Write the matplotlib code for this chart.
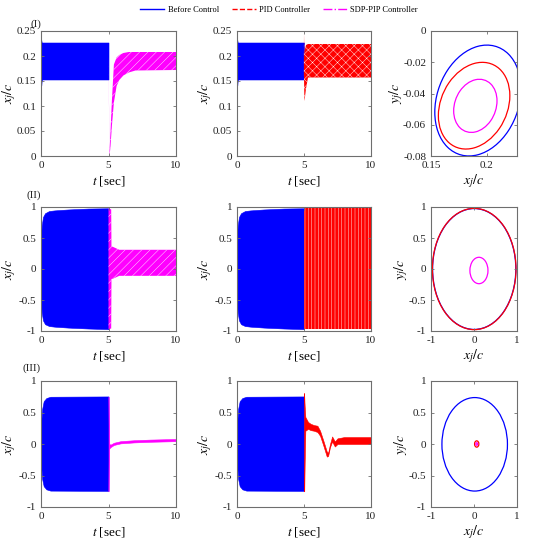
import numpy as np
import matplotlib
matplotlib.use("Agg")
import matplotlib.pyplot as plt
from matplotlib.patches import Circle
from matplotlib.transforms import Affine2D
from matplotlib.lines import Line2D

plt.rcParams['font.family'] = ['Liberation Serif', 'DejaVu Serif']
plt.rcParams['mathtext.fontset'] = 'stix'
plt.rcParams['axes.unicode_minus'] = False
plt.rcParams['hatch.linewidth'] = 0.3

# ---------------- data ----------------
# Case I: envelopes of the oscillating response x_j/c
t_before_I = [0.0, 0.02, 0.05, 0.1, 5.0]
up_before_I = [0.19, 0.232, 0.227, 0.227, 0.227]
lo_before_I = [0.19, 0.141, 0.150, 0.153, 0.153]

t_pid_I = [4.99, 5.0, 5.03, 5.06, 5.15, 5.3, 10.0]
up_pid_I = [0.2, 0.245, 0.2, 0.212, 0.222, 0.224, 0.224]
lo_pid_I = [0.16, 0.16, 0.11, 0.115, 0.135, 0.157, 0.157]

t_sdp_I = [5.0, 5.04, 5.08, 5.15, 5.25, 5.4, 5.6, 5.8, 6.1, 6.5, 7.0, 10.0]
up_sdp_I = [0.20, 0.10, 0.012, 0.05, 0.11, 0.183, 0.197, 0.202, 0.206, 0.208, 0.208, 0.208]
lo_sdp_I = [0.19, 0.09, 0.0, 0.02, 0.06, 0.107, 0.14, 0.152, 0.161, 0.167, 0.171, 0.172]

# Case II
t_before_II = [0.0, 0.01, 0.05, 0.15, 0.3, 0.6, 1.0, 2.0, 3.5, 5.0]
up_before_II = [0.0, 0.5, 0.7, 0.84, 0.9, 0.935, 0.945, 0.96, 0.975, 0.98]
lo_before_II = [0.0, -0.5, -0.7, -0.83, -0.89, -0.92, -0.93, -0.945, -0.96, -0.97]

t_pid_II = [5.0, 10.0]
up_pid_II = [0.985, 0.985]
lo_pid_II = [-0.975, -0.975]

t_sdp_II = [5.0, 5.2, 5.22, 5.3, 5.5, 5.8, 10.0]
up_sdp_II = [0.98, 0.96, 0.36, 0.36, 0.34, 0.31, 0.31]
lo_sdp_II = [-0.97, -0.96, -0.16, -0.16, -0.14, -0.11, -0.11]

# Case III
t_before_III = [0.0, 0.02, 0.08, 0.2, 0.4, 0.7, 5.0]
up_before_III = [0.0, 0.35, 0.55, 0.68, 0.73, 0.75, 0.755]
lo_before_III = [0.0, -0.35, -0.55, -0.67, -0.72, -0.74, -0.745]

t_pid_III = [5.0, 5.02, 5.05, 5.1, 5.3, 5.5, 5.75, 6.0, 6.2, 6.45, 6.7, 6.8, 6.94,
             7.1, 7.3, 7.5, 7.75, 8.0, 10.0]
up_pid_III = [0.81, 0.75, 0.6, 0.43, 0.35, 0.32, 0.30, 0.29, 0.21, 0.05, -0.12, -0.14,
              0.0, 0.12, 0.04, 0.09, 0.10, 0.11, 0.11]
lo_pid_III = [-0.75, -0.75, -0.3, 0.21, 0.24, 0.22, 0.21, 0.19, 0.13, -0.03, -0.2,
              -0.19, -0.05, 0.04, -0.04, 0.0, 0.0, 0.0, 0.0]

t_sdp_III = [5.0, 5.03, 5.06, 5.15, 5.4, 5.9, 6.9, 8.1, 10.0]
up_sdp_III = [0.75, 0.10, 0.0, -0.01, 0.02, 0.045, 0.06, 0.07, 0.08]
lo_sdp_III = [-0.75, -0.05, -0.07, -0.05, -0.015, 0.01, 0.025, 0.035, 0.045]

# Phase portraits: ellipse (centre x, centre y, half-width, half-height, shear)
phase_I = {'blue': (0.192, -0.0445, 0.0386, 0.0347, 0.0074),
           'red': (0.1886, -0.0478, 0.032, 0.027, 0.0064),
           'magenta': (0.1897, -0.0479, 0.0194, 0.0167, 0.0032)}
phase_II = {'blue': (0.005, 0.0, 0.968, 0.975, 0.0),
            'red': (0.005, 0.0, 0.972, 0.978, 0.0),
            'magenta': (0.115, -0.024, 0.21, 0.213, 0.0)}
phase_III = {'blue': (0.016, -0.005, 0.762, 0.742, 0.0),
             'red': (0.063, 0.0, 0.05, 0.05, 0.0),
             'magenta': (0.063, 0.0, 0.02, 0.02, 0.0)}

legend_labels = ['Before Control', 'PID Controller', 'SDP-PIP Controller']
panel_labels = ['(I)', '(II)', '(III)']

# ---------------- figure ----------------
W, H = 550, 541
fig = plt.figure(figsize=(W / 100, H / 100), dpi=100)

def pos(x0, x1, y0, y1):
    return [x0 / W, 1 - y1 / H, (x1 - x0) / W, (y1 - y0) / H]

cols = [(41, 176), (237, 371), (431, 517)]
rows = [(31, 156), (207, 331), (381, 507)]
panel_y = [24, 195, 368]

BLUE, RED, MAG = '#0000ff', '#ff0000', '#ff00ff'
EDGE = '#6e6e6e'

def style(ax):
    for s in ax.spines.values():
        s.set_color(EDGE)
        s.set_linewidth(0.8)
    ax.tick_params(direction='in', length=2.5, width=0.6, colors=EDGE,
                   labelcolor='#222222', labelsize=8, top=True, right=True, pad=3.5)

def band(ax, t, up, lo, color, hatch=None):
    ax.fill_between(t, lo, up, facecolor=color, edgecolor='white' if hatch else color,
                    linewidth=0 if hatch else 0.4, hatch=hatch)

cases = [
    (t_before_I, up_before_I, lo_before_I, t_pid_I, up_pid_I, lo_pid_I,
     t_sdp_I, up_sdp_I, lo_sdp_I, phase_I),
    (t_before_II, up_before_II, lo_before_II, t_pid_II, up_pid_II, lo_pid_II,
     t_sdp_II, up_sdp_II, lo_sdp_II, phase_II),
    (t_before_III, up_before_III, lo_before_III, t_pid_III, up_pid_III, lo_pid_III,
     t_sdp_III, up_sdp_III, lo_sdp_III, phase_III),
]

for r, case in enumerate(cases):
    (tb, ub, lb, tp, upid, lpid, ts, us, ls, phase) = case
    y0, y1 = rows[r]
    axL = fig.add_axes(pos(*cols[0], y0, y1))
    axM = fig.add_axes(pos(*cols[1], y0, y1))
    axR = fig.add_axes(pos(*cols[2], y0, y1))

    band(axL, tb, ub, lb, BLUE)
    band(axL, ts, us, ls, MAG, hatch='////' if r < 2 else None)
    band(axM, tb, ub, lb, BLUE)
    band(axM, tp, upid, lpid, RED, hatch='xxxx' if r == 0 else ('|||||' if r == 1 else None))

    for ax in (axL, axM):
        ax.set_xlim(0, 10)
        ax.set_xticks([0, 5, 10])
        if r == 0:
            ax.set_ylim(0, 0.25)
            ax.set_yticks([0, 0.05, 0.1, 0.15, 0.2, 0.25])
            ax.set_yticklabels(['0', '0.05', '0.1', '0.15', '0.2', '0.25'])
        else:
            ax.set_ylim(-1, 1)
            ax.set_yticks([-1, -0.5, 0, 0.5, 1])
            ax.set_yticklabels(['-1', '-0.5', '0', '0.5', '1'])
        ax.set_xlabel(r'$t$ [sec]', fontsize=9.5, labelpad=3)
        ax.set_ylabel(r'$x_j/c$', fontsize=10)
        ax.yaxis.set_label_coords(-0.17, 0.5)
        style(ax)

    for color in ('blue', 'red', 'magenta'):
        cx, cy, A, B, C = phase[color]
        c = Circle((0, 0), 1, fill=False, lw=0.9,
                   ec={'blue': BLUE, 'red': RED, 'magenta': MAG}[color])
        c.set_transform(Affine2D(np.array([[A, 0, cx], [C, B, cy], [0, 0, 1]])) + axR.transData)
        axR.add_patch(c)
    if r == 0:
        axR.set_xlim(0.15, 0.227)
        axR.set_ylim(-0.08, 0)
        axR.set_xticks([0.15, 0.2])
        axR.set_xticklabels(['0.15', '0.2'])
        axR.set_yticks([-0.08, -0.06, -0.04, -0.02, 0])
        axR.set_yticklabels(['-0.08', '-0.06', '-0.04', '-0.02', '0'])
    else:
        axR.set_xlim(-1, 1)
        axR.set_ylim(-1, 1)
        axR.set_xticks([-1, 0, 1])
        axR.set_xticklabels(['-1', '0', '1'])
        axR.set_yticks([-1, -0.5, 0, 0.5, 1])
        axR.set_yticklabels(['-1', '-0.5', '0', '0.5', '1'])
    axR.set_xlabel(r'$x_j/c$', fontsize=10, labelpad=2)
    axR.set_ylabel(r'$y_j/c$', fontsize=10)
    axR.yaxis.set_label_coords(-0.30 if r == 0 else -0.25, 0.5)
    style(axR)

    fig.text(41 / W, 1 - panel_y[r] / H, panel_labels[r], ha='right', va='center',
             fontsize=8, color='#222222')

handles = [Line2D([], [], color=BLUE, lw=1, ls='-'),
           Line2D([], [], color=RED, lw=1, ls='--'),
           Line2D([], [], color=MAG, lw=1, ls='-.')]
fig.legend(handles, legend_labels, loc='center', bbox_to_anchor=(279 / W, 1 - 10 / H),
           ncol=3, frameon=False, fontsize=6, handlelength=2.9, columnspacing=1.5,
           handletextpad=0.4)

fig.savefig('out.png', dpi=100)
